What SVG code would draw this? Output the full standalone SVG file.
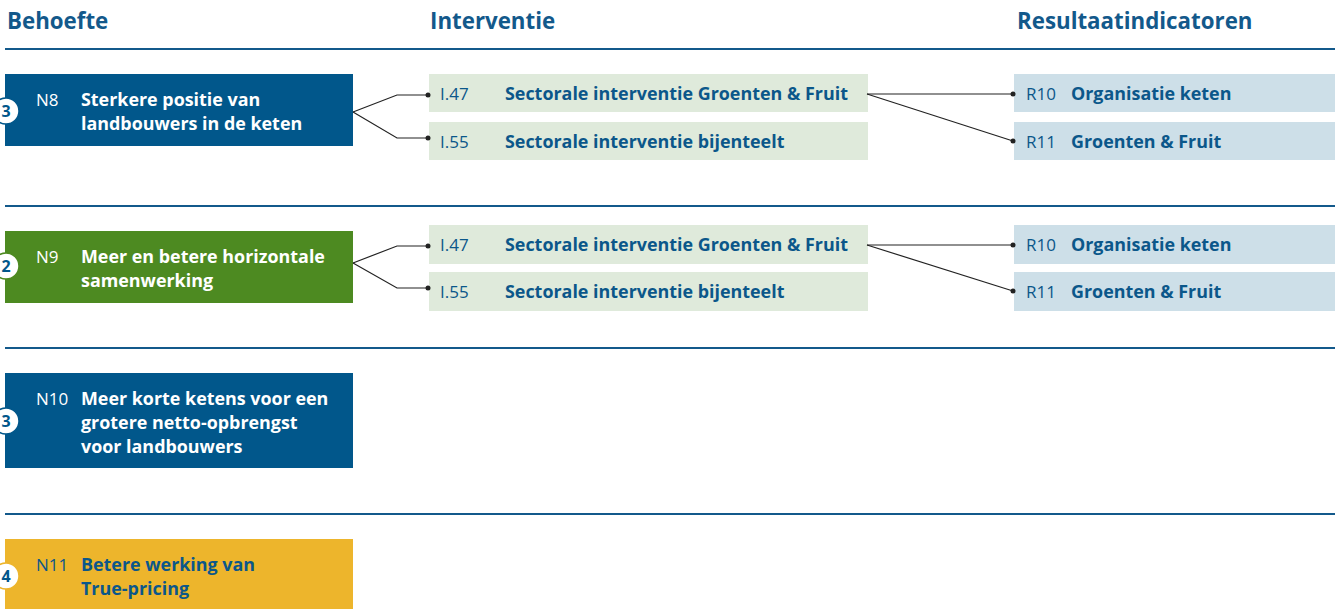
<svg xmlns="http://www.w3.org/2000/svg" width="1335" height="609" viewBox="0 0 1335 609">
<style>
.hdr{font-family:"Open Sans",sans-serif;font-weight:700;font-size:22.3px;fill:#13598b}
.rule{stroke:#13598b;stroke-width:2}
.code{font-family:"Open Sans",sans-serif;font-weight:400;font-size:17px}
.ttl{font-family:"Open Sans",sans-serif;font-weight:700;font-size:17.9px}
.w{fill:#ffffff}
.b{fill:#0b578a}
.blue{fill:#01578b}
.green{fill:#4d8a21}
.yellow{fill:#edb52c}
.ibox{fill:#dfeadb}
.rbox{fill:#cddfe8}
.badge{fill:#ffffff;stroke-width:1.5}
.num{font-family:"Open Sans",sans-serif;font-weight:700;font-size:16px;fill:#01578b;text-anchor:middle}
.conn{fill:none;stroke:#222222;stroke-width:1.2}
.dot{fill:#222222}
</style>
<g id="headers">
<text class="hdr" x="7" y="29">Behoefte</text>
<text class="hdr" x="430" y="29">Interventie</text>
<text class="hdr" x="1017" y="29">Resultaatindicatoren</text>
<line class="rule" x1="5" y1="49" x2="1335" y2="49"/>
<line class="rule" x1="5" y1="206" x2="1335" y2="206"/>
<line class="rule" x1="5" y1="348" x2="1335" y2="348"/>
<line class="rule" x1="5" y1="514" x2="1335" y2="514"/>
</g>
<g id="N8">
<rect class="blue" x="5" y="74" width="348" height="72"/>
<circle class="badge" cx="6" cy="111" r="13" stroke="#01578b"/>
<text class="num" x="6" y="116.5">3</text>
<text class="code w" x="36" y="106">N8</text>
<text class="ttl w" x="81" y="106">Sterkere positie van</text>
<text class="ttl w" x="81" y="130">landbouwers in de keten</text>
</g>
<g id="N9">
<rect class="green" x="5" y="231" width="348" height="72"/>
<circle class="badge" cx="6" cy="266" r="13" stroke="#4d8a21"/>
<text class="num" x="6" y="271.5">2</text>
<text class="code w" x="36" y="263">N9</text>
<text class="ttl w" x="81" y="263">Meer en betere horizontale</text>
<text class="ttl w" x="81" y="287">samenwerking</text>
</g>
<g id="N10">
<rect class="blue" x="5" y="373" width="348" height="95"/>
<circle class="badge" cx="6" cy="421" r="13" stroke="#01578b"/>
<text class="num" x="6" y="426.5">3</text>
<text class="code w" x="36" y="405">N10</text>
<text class="ttl w" x="81" y="405">Meer korte ketens voor een</text>
<text class="ttl w" x="81" y="429">grotere netto-opbrengst</text>
<text class="ttl w" x="81" y="453">voor landbouwers</text>
</g>
<g id="N11">
<rect class="yellow" x="5" y="539" width="348" height="72"/>
<circle class="badge" cx="6" cy="576" r="13" stroke="#edb52c"/>
<text class="num" x="6" y="581.5">4</text>
<text class="code b" x="36" y="571">N11</text>
<text class="ttl b" x="81" y="571">Betere werking van</text>
<text class="ttl b" x="81" y="595">True-pricing</text>
</g>
<g id="I47a">
<rect class="ibox" x="429" y="74" width="439" height="38"/>
<text class="code b" x="440" y="100">I.47</text>
<text class="ttl b" x="505" y="100">Sectorale interventie Groenten &amp; Fruit</text>
</g>
<g id="I55a">
<rect class="ibox" x="429" y="122" width="439" height="38"/>
<text class="code b" x="440" y="148">I.55</text>
<text class="ttl b" x="505" y="148">Sectorale interventie bijenteelt</text>
</g>
<g id="R10a">
<rect class="rbox" x="1014" y="74" width="321" height="38"/>
<text class="code b" x="1026" y="100">R10</text>
<text class="ttl b" x="1071" y="100">Organisatie keten</text>
</g>
<g id="R11a">
<rect class="rbox" x="1014" y="122" width="321" height="38"/>
<text class="code b" x="1026" y="148">R11</text>
<text class="ttl b" x="1071" y="148">Groenten &amp; Fruit</text>
</g>
<g id="I47b">
<rect class="ibox" x="429" y="225" width="439" height="39"/>
<text class="code b" x="440" y="251">I.47</text>
<text class="ttl b" x="505" y="251">Sectorale interventie Groenten &amp; Fruit</text>
</g>
<g id="I55b">
<rect class="ibox" x="429" y="272" width="439" height="39"/>
<text class="code b" x="440" y="298">I.55</text>
<text class="ttl b" x="505" y="298">Sectorale interventie bijenteelt</text>
</g>
<g id="R10b">
<rect class="rbox" x="1014" y="225" width="321" height="39"/>
<text class="code b" x="1026" y="251">R10</text>
<text class="ttl b" x="1071" y="251">Organisatie keten</text>
</g>
<g id="R11b">
<rect class="rbox" x="1014" y="272" width="321" height="39"/>
<text class="code b" x="1026" y="298">R11</text>
<text class="ttl b" x="1071" y="298">Groenten &amp; Fruit</text>
</g>
<g id="connectors">
<path class="conn" d="M353 112 L397 95 L428 95"/>
<path class="conn" d="M353 112 L397 138 L428 138"/>
<circle class="dot" cx="428" cy="95" r="2.5"/>
<circle class="dot" cx="428" cy="138" r="2.5"/>
<path class="conn" d="M867 94 L1013 94"/>
<path class="conn" d="M867 94 L1013 141"/>
<circle class="dot" cx="1013" cy="94" r="2.5"/>
<circle class="dot" cx="1013" cy="141" r="2.5"/>
<path class="conn" d="M353 263 L397 246 L428 246"/>
<path class="conn" d="M353 263 L397 288 L428 288"/>
<circle class="dot" cx="428" cy="246" r="2.5"/>
<circle class="dot" cx="428" cy="288" r="2.5"/>
<path class="conn" d="M867 245 L1013 245"/>
<path class="conn" d="M867 245 L1013 291"/>
<circle class="dot" cx="1013" cy="245" r="2.5"/>
<circle class="dot" cx="1013" cy="291" r="2.5"/>
</g>
</svg>
